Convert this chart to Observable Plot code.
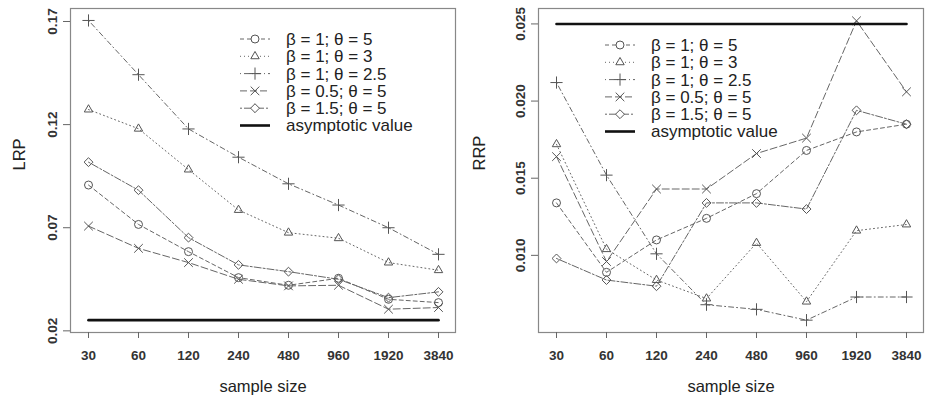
<!DOCTYPE html>
<html>
<head>
<meta charset="utf-8">
<script src="https://cdn.jsdelivr.net/npm/d3@7"></script>
<script src="https://cdn.jsdelivr.net/npm/@observablehq/plot@0.6"></script>
<style>
  html, body { margin: 0; padding: 0; background: #fff; }
  #wrap { display: flex; width: 925px; height: 397px; font-family: "Liberation Sans", Arial, sans-serif; }
  svg { display: block; }
</style>
</head>
<body>
<div id="wrap"></div>
<script>
// ---- data ----
const sizes = ["30", "60", "120", "240", "480", "960", "1920", "3840"];
const seriesLabels = ["β = 1; θ = 5", "β = 1; θ = 3", "β = 1; θ = 2.5", "β = 0.5; θ = 5", "β = 1.5; θ = 5"];
const asymLabel = "asymptotic value";

// LRP (left panel)
const lrp_b1_t5   = [0.0907, 0.0716, 0.0584, 0.0458, 0.0421, 0.0455, 0.0353, 0.0337];
const lrp_b1_t3   = [0.1273, 0.1180, 0.0982, 0.0786, 0.0676, 0.0649, 0.0531, 0.0494];
const lrp_b1_t25  = [0.1705, 0.1442, 0.1179, 0.1042, 0.0913, 0.0810, 0.0700, 0.0571];
const lrp_b05_t5  = [0.0708, 0.0600, 0.0531, 0.0450, 0.0418, 0.0421, 0.0305, 0.0313];
const lrp_b15_t5  = [0.1018, 0.0882, 0.0652, 0.0520, 0.0487, 0.0450, 0.0361, 0.0389];
const lrpAsym = 0.0252;

// RRP (right panel)
const rrp_b1_t5   = [0.0134, 0.0089, 0.0110, 0.0124, 0.0140, 0.0168, 0.0180, 0.0185];
const rrp_b1_t3   = [0.0172, 0.0104, 0.0084, 0.0072, 0.0108, 0.0070, 0.0116, 0.0120];
const rrp_b1_t25  = [0.0212, 0.0152, 0.0101, 0.0068, 0.0065, 0.0058, 0.0073, 0.0073];
const rrp_b05_t5  = [0.0164, 0.0096, 0.0143, 0.0143, 0.0166, 0.0176, 0.0252, 0.0206];
const rrp_b15_t5  = [0.0098, 0.0084, 0.0080, 0.0134, 0.0134, 0.0130, 0.0194, 0.0185];
const rrpAsym = 0.0250;

const lrpTicks = [0.02, 0.07, 0.12, 0.17];
const rrpTicks = [0.010, 0.015, 0.020, 0.025];

// ---- styles ----
const symbols = ["circle", "triangle2", "plus", "times", "diamond2"];
const dashes  = ["4,3", "1,3", "1,3,5,3", "7,3", "2,2,7,2"];
const lineColor = "#666";
const dotColor = "#555";
const font = "'Liberation Sans', Arial, sans-serif";
const dotR = 4;

function makePanel(opts) {
  const {seriesValues, asym, ticks, tickFmt, domain, yLabel, width, marginLeft, marginRight, legendX, legendY} = opts;
  const marks = [Plot.frame({stroke: "#888", strokeWidth: 1.2})];
  marks.push(Plot.axisX({
    tickSize: 6, tickPadding: 12, fontSize: 13.5, fontWeight: "bold", stroke: "#666",
    label: null, color: "#333"
  }));
  marks.push(Plot.axisY({
    ticks, tickFormat: tickFmt, tickRotate: -90, tickSize: 7, tickPadding: 7,
    fontSize: 13.5, fontWeight: "bold", stroke: "#666", label: null, color: "#333"
  }));
  seriesValues.forEach((vals, i) => {
    const rows = sizes.map((s, j) => ({size: s, value: vals[j], series: seriesLabels[i]}));
    marks.push(Plot.line(rows, {x: "size", y: "value", stroke: lineColor, strokeWidth: 1, strokeDasharray: dashes[i]}));
    marks.push(Plot.dot(rows, {x: "size", y: "value", symbol: () => symbols[i], r: dotR, stroke: dotColor, strokeWidth: 1, fill: "none"}));
  });
  const asymRows = sizes.map(s => ({size: s, value: asym}));
  marks.push(Plot.line(asymRows, {x: "size", y: "value", stroke: "#111", strokeWidth: 2.6}));
  marks.push(Plot.text([yLabel], {frameAnchor: "left", dx: opts.yLabelDx, rotate: -90, fontSize: 16.5, fill: "#222", lineAnchor: "middle"}));
  marks.push(Plot.text(["sample size"], {frameAnchor: "bottom", dy: 54, fontSize: 16.5, fill: "#222", lineAnchor: "middle"}));

  const svg = Plot.plot({
    width, height: 397,
    marginLeft, marginRight, marginTop: 8, marginBottom: 65,
    style: {fontFamily: font, background: "#fff"},
    x: {type: "point", domain: sizes, padding: 0.28},
    y: {domain},
    marks
  });

  // legend (no box, as in R bty="n")
  const g = d3.select(svg).append("g")
    .attr("font-family", font).attr("font-size", 17).attr("fill", "#222")
    .attr("text-anchor", "start");
  const step = 17.3;
  const all = seriesLabels.concat([asymLabel]);
  all.forEach((lab, i) => {
    const y = legendY + i * step;
    const row = g.append("g");
    if (i < 5) {
      row.append("line").attr("x1", legendX).attr("x2", legendX + 30).attr("y1", y).attr("y2", y)
        .attr("stroke", lineColor).attr("stroke-dasharray", dashes[i]).attr("stroke-width", 1);
      const sym = d3.symbol().type(
        [d3.symbolCircle, d3.symbolTriangle2, d3.symbolPlus, d3.symbolTimes, d3.symbolDiamond2][i]
      ).size(Math.PI * dotR * dotR);
      row.append("path").attr("d", sym()).attr("transform", `translate(${legendX + 15},${y})`)
        .attr("fill", "#fff").attr("stroke", dotColor);
    } else {
      row.append("line").attr("x1", legendX).attr("x2", legendX + 30).attr("y1", y).attr("y2", y)
        .attr("stroke", "#111").attr("stroke-width", 2.6);
    }
    row.append("text").attr("x", legendX + 46).attr("y", y).attr("dy", "0.35em")
      .attr("text-anchor", "start").text(lab);
  });
  return svg;
}

const wrap = document.getElementById("wrap");
wrap.appendChild(makePanel({
  seriesValues: [lrp_b1_t5, lrp_b1_t3, lrp_b1_t25, lrp_b05_t5, lrp_b15_t5],
  asym: lrpAsym, ticks: lrpTicks, tickFmt: d3.format(".2f"), domain: [0.0192, 0.1763],
  yLabel: "LRP", yLabelDx: -51, width: 462, marginLeft: 70, marginRight: 7,
  legendX: 240, legendY: 39
}));
wrap.appendChild(makePanel({
  seriesValues: [rrp_b1_t5, rrp_b1_t3, rrp_b1_t25, rrp_b05_t5, rrp_b15_t5],
  asym: rrpAsym, ticks: rrpTicks, tickFmt: d3.format(".3f"), domain: [0.0050, 0.0260],
  yLabel: "RRP", yLabelDx: -59, width: 463, marginLeft: 76, marginRight: 2,
  legendX: 143, legendY: 45
}));
</script>
</body>
</html>
